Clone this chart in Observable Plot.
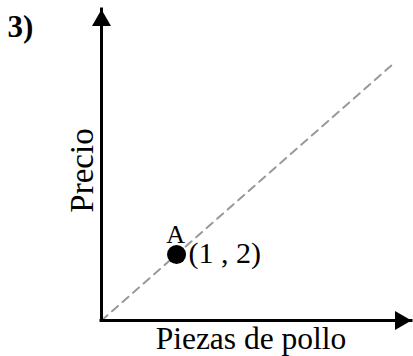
<!DOCTYPE html>
<html>
<head>
<meta charset="utf-8">
<script src="https://cdn.jsdelivr.net/npm/d3@7"></script>
<script src="https://cdn.jsdelivr.net/npm/@observablehq/plot@0.6"></script>
<style>
  html, body { margin: 0; padding: 0; background: #fff; }
  svg { display: block; }
</style>
</head>
<body>
<script>
// --- data ---
const titleText = "3)";
const xLabel = "Piezas de pollo";
const yLabel = "Precio";
const pointX = [1];
const pointY = [2];
const pointName = ["A"];
const pointCoord = ["(1 , 2)"];
const lineX = [0, 3.88];
const lineY = [0, 7.76];
const xMax = 4.13;
const yMax = 9.42;

const font = "'Liberation Serif', 'Times New Roman', serif";
const pts = pointX.map((x, i) => ({x, y: pointY[i], name: pointName[i], coord: pointCoord[i]}));
const line = lineX.map((x, i) => ({x, y: lineY[i]}));

const chart = Plot.plot({
  width: 413,
  height: 356,
  marginLeft: 101,
  marginRight: 2,
  marginTop: 9,
  marginBottom: 36,
  x: {domain: [0, xMax], axis: null},
  y: {domain: [0, yMax], axis: null},
  style: {background: "#fff", fontFamily: font, overflow: "visible"},
  marks: [
    Plot.line(line, {x: "x", y: "y", stroke: "#999", strokeWidth: 2, strokeDasharray: "8,6"}),
    Plot.ruleX([0], {y1: 0, y2: yMax, stroke: "#000", strokeWidth: 3, strokeLinecap: "square"}),
    Plot.ruleY([0], {x1: 0, x2: xMax, stroke: "#000", strokeWidth: 3, strokeLinecap: "square"}),
    Plot.dot([{x: 0, y: yMax}], {x: "x", y: "y", symbol: "triangle", r: 7.05, fill: "#000", stroke: "none", dy: 11}),
    Plot.dot([{x: xMax, y: 0}], {x: "x", y: "y", symbol: "triangle", r: 7.05, fill: "#000", stroke: "none", rotate: 90, dx: -11}),
    Plot.dot(pts, {x: "x", y: "y", r: 9.5, fill: "#000", stroke: "none"}),
    Plot.text(pts, {x: "x", y: "y", text: "name", fontSize: 26, fontFamily: font, fill: "#000", textAnchor: "middle", lineAnchor: "bottom", dx: -1, dy: -11}),
    Plot.text(pts, {x: "x", y: "y", text: "coord", fontSize: 30, fontFamily: font, fill: "#000", textAnchor: "start", lineAnchor: "bottom", dx: 12, dy: 9}),
    Plot.text([xLabel], {frameAnchor: "bottom", fontSize: 31.5, fontFamily: font, fill: "#000", textAnchor: "middle", lineAnchor: "bottom", dx: -5.5, dy: 28}),
    Plot.text([yLabel], {frameAnchor: "left", fontSize: 33, fontFamily: font, fill: "#000", textAnchor: "middle", lineAnchor: "bottom", rotate: -90, dx: -9, dy: 5.5}),
    Plot.text([titleText], {frameAnchor: "top-left", fontSize: 31, fontWeight: "bold", fontFamily: font, fill: "#000", textAnchor: "start", lineAnchor: "bottom", dx: -94, dy: 27})
  ]
});
document.body.appendChild(chart);
</script>
</body>
</html>
